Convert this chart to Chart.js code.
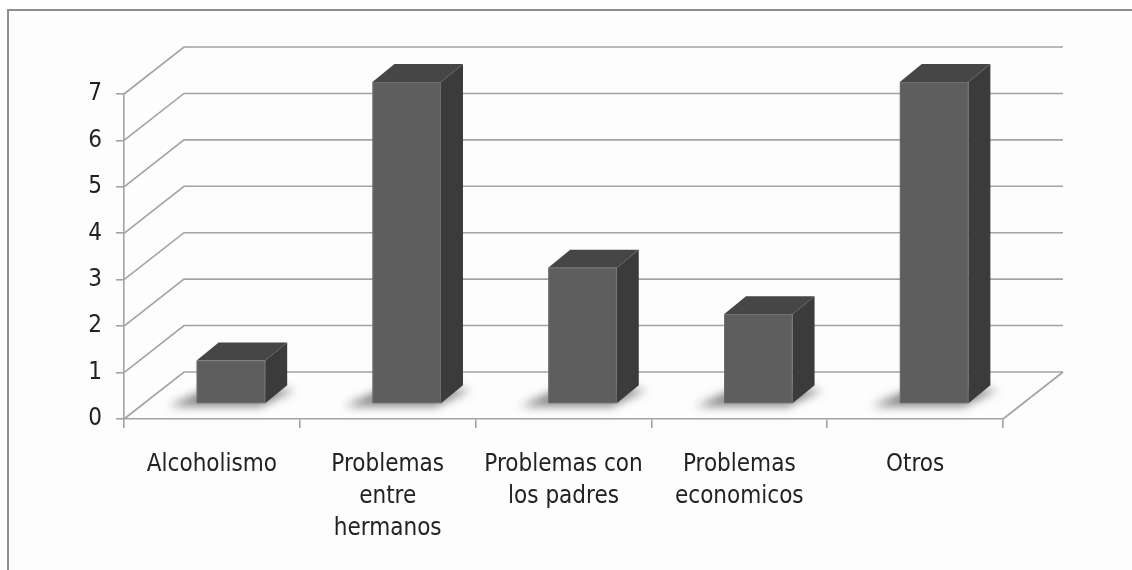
<!DOCTYPE html>
<html>
<head>
<meta charset="utf-8">
<script src="https://cdn.jsdelivr.net/npm/chart.js@4.4.0/dist/chart.umd.min.js"></script>
<style>
  html, body { margin: 0; padding: 0; background: #fff; }
  #wrap { width: 1132px; height: 570px; position: relative; }
</style>
</head>
<body>
<div id="wrap"><canvas id="myChart" width="1132" height="570"></canvas></div>
<script>
var categories = [
    'Alcoholismo',
    ['Problemas', 'entre', 'hermanos'],
    ['Problemas con', 'los padres'],
    ['Problemas', 'economicos'],
    'Otros'
];
var values = [1, 7, 3, 2, 7];
var yTicks = [0, 1, 2, 3, 4, 5, 6, 7];

// depth of the 3d box (back wall offset) and of the bars
var WALL_DX = 60, WALL_DY = -47;
var BAR_SHIFT_X = 19, BAR_SHIFT_Y = -15;
var BAR_DX = 22, BAR_DY = -18;
var GRID = '#a3a3a3';

var frame3d = {
    id: 'frame3d',
    beforeDraw: function(chart) {
        var ctx = chart.ctx;
        ctx.save();
        ctx.fillStyle = '#fff';
        ctx.fillRect(0, 0, chart.width, chart.height);
        ctx.fillStyle = '#fdfdfd';
        ctx.fillRect(8, 10, chart.width, chart.height);
        ctx.strokeStyle = '#8e8e8e';
        ctx.lineWidth = 2;
        ctx.beginPath();
        ctx.moveTo(8, chart.height + 5);
        ctx.lineTo(8, 10);
        ctx.lineTo(chart.width + 5, 10);
        ctx.stroke();
        ctx.restore();
    },
    beforeDatasetsDraw: function(chart) {
        var ctx = chart.ctx;
        var y = chart.scales.y, area = chart.chartArea;
        ctx.save();
        ctx.strokeStyle = GRID;
        ctx.lineWidth = 1.6;
        yTicks.forEach(function(v) {
            var py = y.getPixelForValue(v);
            ctx.beginPath();
            ctx.moveTo(area.left, py);
            ctx.lineTo(area.left + WALL_DX, py + WALL_DY);
            ctx.lineTo(area.right + WALL_DX, py + WALL_DY);
            ctx.stroke();
        });
        // floor right edge
        ctx.beginPath();
        ctx.moveTo(area.right, area.bottom);
        ctx.lineTo(area.right + WALL_DX, area.bottom + WALL_DY);
        ctx.stroke();
        ctx.restore();
    },
    afterDatasetsDraw: function(chart) {
        var ctx = chart.ctx;
        var meta = chart.getDatasetMeta(0);
        ctx.save();
        meta.data.forEach(function(bar) {
            var l = bar.x - bar.width / 2 + BAR_SHIFT_X;
            var r = bar.x + bar.width / 2 + BAR_SHIFT_X;
            var t = bar.y + BAR_SHIFT_Y + 3;
            var b = bar.base + BAR_SHIFT_Y;

            // soft floor shadow, thrown to the front-left
            ctx.save();
            ctx.filter = 'blur(5px)';
            ctx.fillStyle = 'rgba(100,100,100,0.8)';
            ctx.beginPath();
            ctx.moveTo(l - 28, b + 3);
            ctx.lineTo(r - 5, b + 3);
            ctx.lineTo(r + BAR_DX + 8, b + BAR_DY + 4);
            ctx.lineTo(l + BAR_DX - 12, b + BAR_DY + 4);
            ctx.closePath();
            ctx.fill();
            ctx.restore();

            // side
            ctx.fillStyle = '#3b3b3b';
            ctx.beginPath();
            ctx.moveTo(r, t);
            ctx.lineTo(r + BAR_DX, t + BAR_DY);
            ctx.lineTo(r + BAR_DX, b + BAR_DY);
            ctx.lineTo(r, b);
            ctx.closePath();
            ctx.fill();

            // top
            ctx.fillStyle = '#464646';
            ctx.beginPath();
            ctx.moveTo(l, t);
            ctx.lineTo(l + BAR_DX, t + BAR_DY);
            ctx.lineTo(r + BAR_DX, t + BAR_DY);
            ctx.lineTo(r, t);
            ctx.closePath();
            ctx.fill();

            // front
            ctx.fillStyle = '#5e5e5e';
            ctx.fillRect(l, t, r - l, b - t);
            ctx.strokeStyle = 'rgba(120,120,120,0.6)';
            ctx.lineWidth = 1;
            ctx.strokeRect(l + 0.5, t + 0.5, r - l - 1, b - t - 1);
        });
        ctx.restore();
    }
};

var ctx = document.getElementById('myChart');
var labelFont = { family: '"Liberation Sans Narrow", "DejaVu Sans Condensed", sans-serif', size: 24, lineHeight: 1.33 };

new Chart(ctx, {
    type: 'bar',
    data: {
        labels: categories,
        datasets: [{
            data: values,
            backgroundColor: 'rgba(0,0,0,0)',
            borderWidth: 0,
            categoryPercentage: 1,
            barPercentage: 0.39
        }]
    },
    options: {
        responsive: false,
        animation: false,
        events: [],
        layout: { padding: { top: 94, right: 129, left: 0, bottom: 0 } },
        plugins: { legend: { display: false }, tooltip: { enabled: false } },
        scales: {
            y: {
                min: 0,
                max: 7,
                afterFit: function(scale) { scale.width = 124; },
                ticks: { stepSize: 1, color: '#222', font: labelFont, padding: 14 },
                grid: { drawOnChartArea: false, tickLength: 8, color: GRID, lineWidth: 1.6 },
                border: { color: GRID, width: 1.6 }
            },
            x: {
                afterFit: function(scale) { scale.height = 570 - 419; },
                ticks: { color: '#222', font: labelFont, maxRotation: 0, autoSkip: false, padding: 21 },
                grid: { drawOnChartArea: false, offset: true, tickLength: 9, color: GRID, lineWidth: 1.6 },
                border: { color: GRID, width: 1.6 }
            }
        }
    },
    plugins: [frame3d]
});
</script>
</body>
</html>
